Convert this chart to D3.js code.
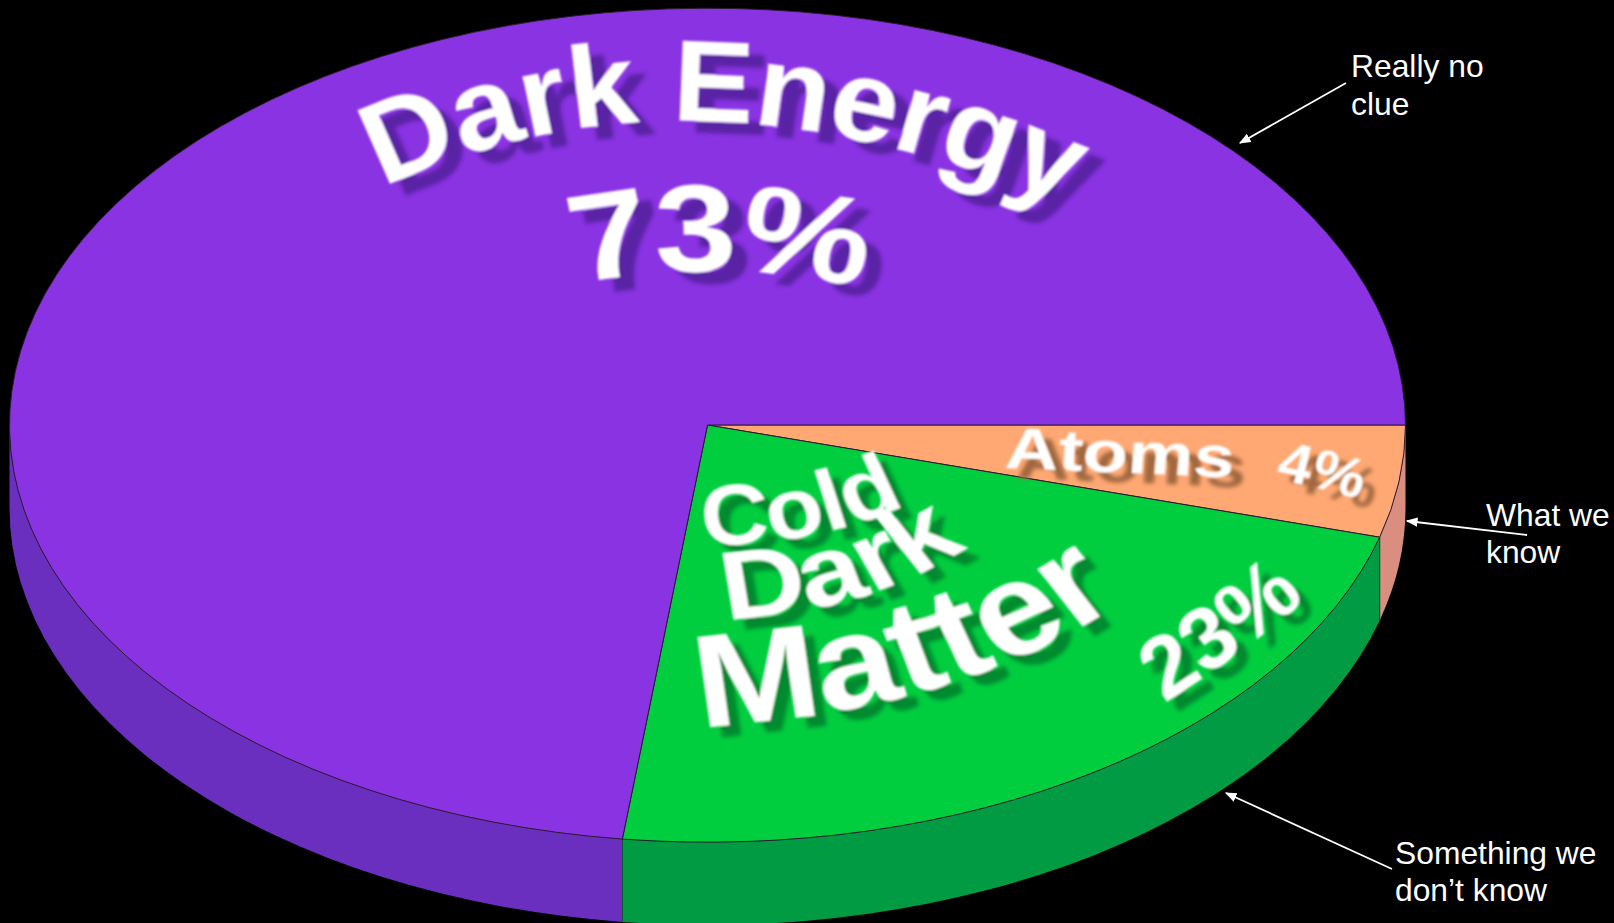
<!DOCTYPE html>
<html><head><meta charset="utf-8">
<style>html,body{margin:0;padding:0;background:#000;overflow:hidden}svg{display:block}</style>
<script src="https://cdn.jsdelivr.net/npm/d3@7/dist/d3.min.js"></script>
</head><body><svg id="c" width="1614" height="923"></svg>
<script>
// data
const categories = ["Atoms", "Cold Dark Matter", "Dark Energy"];
const values = [4, 23, 73];
const topColors = ["#FFA873", "#00CE3F", "#8A33E3"];
const wallColors = ["#D98E80", "#009B43", "#6B2FC0"];
const shadowColors = ["#A0683F", "#008A30", "#5A22A5"];
const notes = [["Really no", "clue"], ["What we", "know"], ["Something we", "don\u2019t know"]];

// layout
const W = 1614, H = 923, cx = 707.5, cy = 425, rx = 698, ry = 417, depth = 83;
const svg = d3.select("#c");
svg.append("rect").attr("width", W).attr("height", H).attr("fill", "#000");
const defs = svg.append("defs");
shadowColors.forEach((col, i) => {
  const f = defs.append("filter").attr("id", "sh" + i).attr("x", "-30%").attr("y", "-40%").attr("width", "160%").attr("height", "200%");
  f.append("feGaussianBlur").attr("in", "SourceAlpha").attr("stdDeviation", 2).attr("result", "b");
  f.append("feOffset").attr("in", "b").attr("dx", i === 2 ? 16 : 12).attr("dy", i === 2 ? 12 : 10).attr("result", "o");
  f.append("feFlood").attr("flood-color", col).attr("result", "c");
  f.append("feComposite").attr("in", "c").attr("in2", "o").attr("operator", "in").attr("result", "s");
  f.append("feGaussianBlur").attr("in", "SourceGraphic").attr("stdDeviation", 0.9).attr("result", "t");
  const m = f.append("feMerge");
  m.append("feMergeNode").attr("in", "s");
  m.append("feMergeNode").attr("in", "t");
});
const m2 = defs.append("marker").attr("id", "ah").attr("viewBox", "0 0 10 10").attr("refX", 9).attr("refY", 5)
  .attr("markerWidth", 6.5).attr("markerHeight", 6.5).attr("orient", "auto-start-reverse").attr("markerUnits", "strokeWidth");
m2.append("path").attr("d", "M0,1 L10,5 L0,9 Z").attr("fill", "#fff");

// The disc is drawn in perspective, so equal shares do not span equal angles
// on screen: this scale maps the pie's true angle to its drawn angle.
const rad = d => d * Math.PI / 180;
const pie = d3.pie().sort(null).startAngle(Math.PI / 2).endAngle(Math.PI * 2.5);
const arcs0 = pie(values);
const drawn = d3.scaleLinear()
  .domain([arcs0[0].startAngle, arcs0[0].endAngle, arcs0[1].endAngle, arcs0[2].endAngle])
  .range([rad(90), rad(90 + 15.6), rad(90 + 97), rad(450)]);
const arcs = arcs0.map(d => ({ ...d, startAngle: drawn(d.startAngle), endAngle: drawn(d.endAngle) }));
const arc = d3.arc().innerRadius(0).outerRadius(1);
const px = a => cx + rx * Math.sin(a), py = a => cy - ry * Math.cos(a);

// side walls of the disc (only the front half is visible)
arcs.forEach((d, i) => {
  const a0 = Math.max(d.startAngle, Math.PI / 2), a1 = Math.min(d.endAngle, Math.PI * 1.5);
  if (a1 <= a0) return;
  const dstr = `M${px(a0)},${py(a0)} A${rx},${ry} 0 0 1 ${px(a1)},${py(a1)} L${px(a1)},${py(a1) + depth} A${rx},${ry} 0 0 0 ${px(a0)},${py(a0) + depth} Z`;
  svg.append("path").attr("d", dstr).attr("fill", wallColors[i]);
});
// seams between neighbouring walls
arcs.slice(0, 2).forEach(d => svg.append("line")
  .attr("x1", px(d.endAngle)).attr("y1", py(d.endAngle)).attr("x2", px(d.endAngle)).attr("y2", py(d.endAngle) + depth)
  .attr("stroke", "#0b5a2a").attr("stroke-width", 1));

// top surface
svg.append("g").attr("transform", `translate(${cx},${cy}) scale(${rx},${ry})`)
  .selectAll("path").data(arcs).join("path")
  .attr("d", arc).attr("fill", (d, i) => topColors[i])
  .attr("stroke", "#2a1a30").attr("stroke-width", 1).attr("vector-effect", "non-scaling-stroke");

// labels on the disc, set along curves
const labels = [
  { t: "Dark Energy", c: 2, b: [383, 188, 700, 38, 1110, 225], fs: 116, sx: 1.05, ls: -1, start: true },
  { t: "73%", c: 2, b: [562, 288, 710, 252, 876, 292], fs: 124, sx: 1.19, ls: -3 },
  { t: "Atoms", c: 0, b: [1002, 468, 1120, 472, 1235, 478], fs: 58, sx: 1.27, ls: 0 },
  { t: "4%", c: 0, b: [1268, 478, 1316, 486, 1366, 502], fs: 56, sx: 1.08, ls: 0 },
  { t: "Cold", c: 1, b: [703, 545, 820, 545, 905, 505], fs: 86, sx: 1.1, ls: 0 },
  { t: "Dark", c: 1, b: [703, 620, 870, 618, 985, 535], fs: 98, sx: 1.2, ls: 0 },
  { t: "Matter", c: 1, b: [696, 727, 960, 712, 1125, 600], fs: 132, sx: 1.14, ls: 0 },
  { t: "23%", c: 1, b: [1160, 706, 1240, 656, 1310, 596], fs: 88, sx: 1.0, ls: 0 }
];
labels.forEach((l, i) => {
  const id = "lp" + i, b = l.b, s = l.sx;
  defs.append("path").attr("id", id).attr("d", `M${b[0] / s},${b[1]} Q${b[2] / s},${b[3]} ${b[4] / s},${b[5]}`);
  svg.append("g").attr("filter", `url(#sh${l.c})`).append("g").attr("transform", `scale(${s},1)`)
    .append("text").attr("font-family", "'Liberation Sans',Arial,sans-serif").attr("font-weight", "bold")
    .attr("font-size", l.fs).attr("fill", "#fff").attr("letter-spacing", l.ls)
    .attr("text-anchor", l.start ? "start" : "middle")
    .append("textPath").attr("href", "#" + id).attr("startOffset", l.start ? "0%" : "50%").text(l.t);
});

// annotations
const noteX = [1351, 1486, 1395], noteY = [76.5, 525, 863];
const arrows = [[1346, 83, 1240, 143], [1527, 535, 1407, 521], [1392, 869, 1226, 793]];
arrows.forEach(a => svg.append("line").attr("x1", a[0]).attr("y1", a[1]).attr("x2", a[2]).attr("y2", a[3])
  .attr("stroke", "#fff").attr("stroke-width", 1.8).attr("marker-end", "url(#ah)"));
notes.forEach((n, i) => {
  const t = svg.append("text").attr("font-family", "'Liberation Sans',Arial,sans-serif").attr("font-size", 31.8).attr("fill", "#fff");
  n.forEach((ln, j) => t.append("tspan").attr("x", noteX[i]).attr("y", noteY[i] + 0.5 + j * 37.5).text(ln));
});
</script></body></html>
